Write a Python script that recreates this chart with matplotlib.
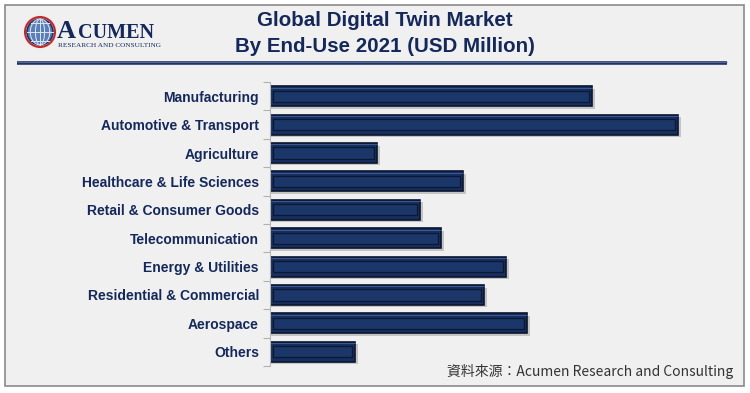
import matplotlib
matplotlib.use("Agg")
import matplotlib.pyplot as plt
from matplotlib.patches import Rectangle, Circle
import numpy as np

categories = ["Manufacturing", "Automotive & Transport", "Agriculture",
              "Healthcare & Life Sciences", "Retail & Consumer Goods",
              "Telecommunication", "Energy & Utilities",
              "Residential & Commercial", "Aerospace", "Others"]
values = [322, 408, 107, 193, 150, 171, 236, 214, 257, 85]

title_lines = ["Global Digital Twin Market", "By End-Use 2021 (USD Million)"]
source = "資料來源：Acumen Research and Consulting"

W, H = 750, 393
fig = plt.figure(figsize=(W/100, H/100), dpi=100)
fig.patch.set_facecolor("white")

# outer panel
bg = fig.add_axes([0, 0, 1, 1])
bg.set_xlim(0, W); bg.set_ylim(H, 0); bg.axis("off")
bg.add_patch(Rectangle((5, 5), 739, 381, facecolor="#f0f0f0", edgecolor="#8a8a8a", lw=1.2))
# title underline
bg.plot([17, 727], [63, 63], color="#1f3563", lw=2.6, solid_capstyle="butt")
bg.plot([17, 727], [62, 62], color="#5a6e96", lw=0.6, solid_capstyle="butt")

navy = "#14285a"
bg.text(385, 21, title_lines[0], ha="center", va="center", fontsize=14.8,
        fontweight="bold", color=navy, family="Liberation Sans")
bg.text(385, 46, title_lines[1], ha="center", va="center", fontsize=14.8,
        fontweight="bold", color=navy, family="Liberation Sans")

# logo
gx, gy, r = 40, 32, 13
bg.add_patch(Circle((gx, gy), r + 2, facecolor="none", edgecolor="#c8282a", lw=1.5))
bg.add_patch(Circle((gx, gy), r, facecolor="#5a7fb8", edgecolor="#1f3563", lw=1.2))
for k in np.linspace(-0.7, 0.7, 3):
    bg.plot([gx - r * np.sqrt(1 - k**2), gx + r * np.sqrt(1 - k**2)], [gy + k*r, gy + k*r], color="#dfe6f2", lw=0.7)
for w in [0.35, 0.75]:
    t = np.linspace(0, 2*np.pi, 60)
    bg.plot(gx + w*r*np.cos(t), gy + r*np.sin(t), color="#dfe6f2", lw=0.7)
bg.plot([gx, gx], [gy - r, gy + r], color="#dfe6f2", lw=0.7)
bg.text(57, 38, "A", fontsize=19, family="Liberation Serif", fontweight="bold", color=navy, va="baseline")
bg.text(78, 38, "CUMEN", fontsize=14.5, family="Liberation Serif", fontweight="bold", color=navy, va="baseline")
bg.text(58, 47, "RESEARCH AND CONSULTING", fontsize=5.2, family="Liberation Serif", color=navy, va="baseline")

# source
bg.text(733, 371, source, ha="right", va="center", fontsize=10,
        color="#333333", family=["Noto Sans CJK TC", "DejaVu Sans"])

# bar axes
x0, x1 = 270, 730
y0, y1 = 82, 366
ax = fig.add_axes([x0/W, 1 - y1/H, (x1 - x0)/W, (y1 - y0)/H])
ax.set_facecolor("none")
n = len(categories)
ypos = np.arange(n)
xmax = 408 / (679 - 271) * (x1 - x0)
ax.set_xlim(0, xmax)
ax.set_ylim(n - 0.5, -0.5)

bh = 0.70
for i, v in enumerate(values):
    # shadow
    ax.add_patch(Rectangle((0.8, i - bh/2 + 0.09), v + 2, bh, facecolor="#9a9a9a", edgecolor="none", alpha=0.5, zorder=1))
    ax.add_patch(Rectangle((0, i - bh/2), v, bh, facecolor="#172f5e", edgecolor="#0a1530", lw=1.2, zorder=2))
    ax.add_patch(Rectangle((2.5, i - bh/2 + 0.15), v - 6, bh - 0.3, facecolor="#1b3668", edgecolor="#0b1733", lw=0.9, zorder=3))
    ax.plot([0.5, v - 0.5], [i - bh/2 + 0.05, i - bh/2 + 0.05], color="#3d5a92", lw=0.7, zorder=4)

ax.set_yticks(ypos)
ax.set_yticklabels(categories, fontsize=10, fontweight="bold", color=navy, family="Liberation Sans")
ax.tick_params(axis="y", length=0, pad=8)
ax.set_yticks(np.arange(n + 1) - 0.5, minor=True)
ax.tick_params(axis="y", which="minor", length=5, color="#b0b0b0", width=0.8)
ax.set_xticks([])
for s in ["top", "right", "bottom"]:
    ax.spines[s].set_visible(False)
ax.spines["left"].set_color("#b8b8b8")
ax.spines["left"].set_linewidth(0.8)

fig.savefig("out.png", dpi=100, facecolor=fig.get_facecolor())
